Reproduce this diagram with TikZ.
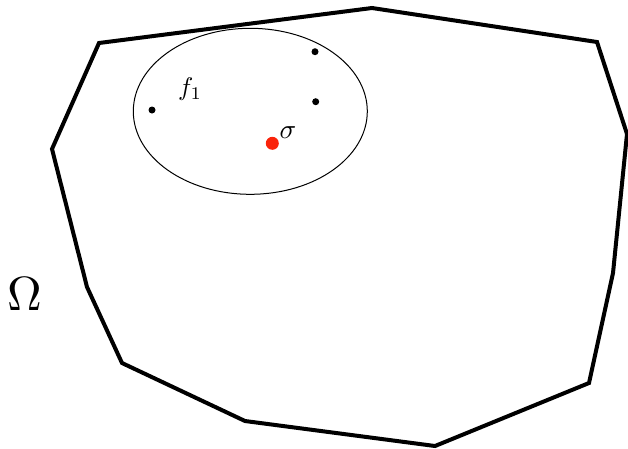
\documentclass[tikz,border=0pt]{standalone}
\begin{document}
\begin{tikzpicture}[x=1pt,y=-1pt,
  boundary/.style={line width=4pt,line join=miter},
  region/.style={line width=1pt},
  pt/.style={circle,fill=black,inner sep=0pt,minimum size=7pt},
  redpt/.style={circle,fill=sigmared,inner sep=0pt,minimum size=13pt},
  lbl/.style={inner sep=0pt}]
\definecolor{sigmared}{RGB}{250,35,10}
\useasboundingbox (0,0) rectangle (628,448);
\draw[boundary] (99,43) -- (372,8) -- (597,42) -- (627,134) -- (613,273) -- (589,383) -- (435,446) -- (245,421) -- (122,363) -- (87,287) -- (52,149) -- cycle;
\draw[region] (250.3,111.3) ellipse [x radius=117, y radius=83];
\node[pt] (p1) at (315,51.7) {};
\node[pt] (p2) at (315.7,101.7) {};
\node[pt] (p3) at (152,110) {};
\node[redpt] (s) at (272.3,143.3) {};
\node[lbl,scale=2.55] (f) at (190,89) {$f_1$};
\node[lbl,scale=2.75] (sig) at (288,133) {$\sigma$};
\node[lbl,scale=4.8] (om) at (25,294) {$\Omega$};
\end{tikzpicture}
\end{document}
